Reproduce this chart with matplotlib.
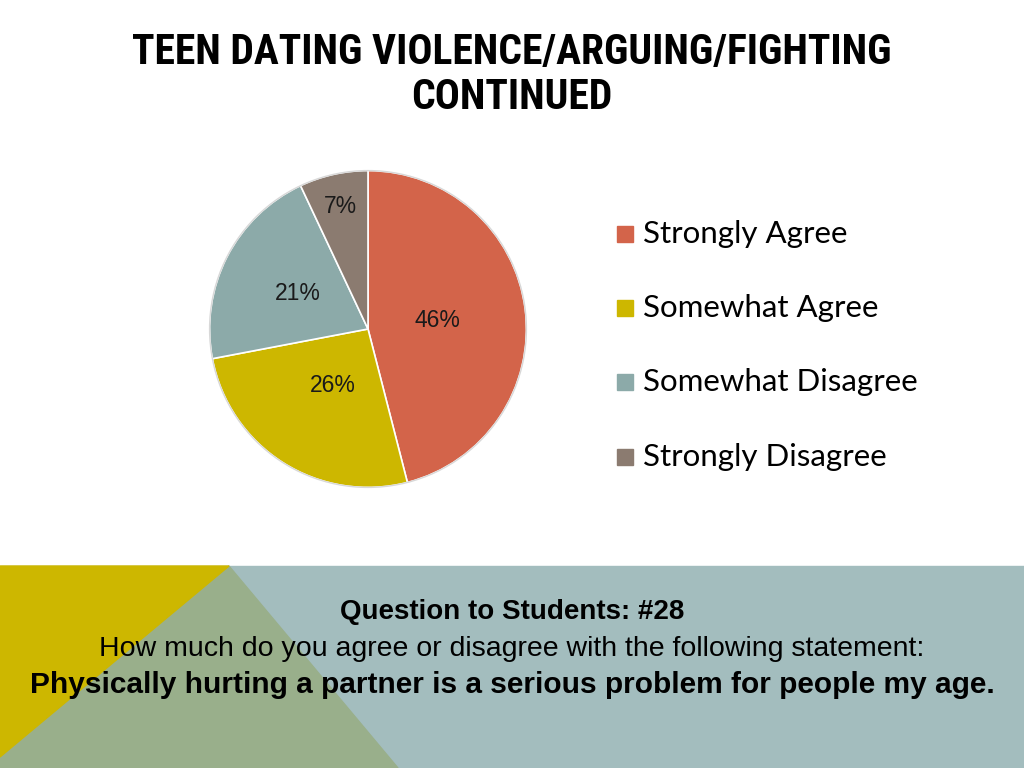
import matplotlib
matplotlib.use("Agg")
import matplotlib.pyplot as plt
import numpy as np
from matplotlib import font_manager
from matplotlib.patches import Polygon, Rectangle

categories = ["Strongly Agree", "Somewhat Agree", "Somewhat Disagree", "Strongly Disagree"]
values = [46, 26, 21, 7]
labels = ["46%", "26%", "21%", "7%"]
colors = ["#D3644A", "#CDB700", "#8CAAA9", "#8B7B70"]
label_r = [0.44, 0.42, 0.50, 0.79]

title = "TEEN DATING VIOLENCE/ARGUING/FIGHTING\nCONTINUED"
q_line1 = "Question to Students: #28"
q_line2 = "How much do you agree or disagree with the following statement:"
q_line3 = "Physically hurting a partner is a serious problem for people my age."

names = {f.name for f in font_manager.fontManager.ttflist}
title_font = "DejaVu Sans"
for cand in ["Roboto Condensed", "Archivo Narrow", "Asap Condensed", "PT Sans Narrow"]:
    if cand in names:
        title_font = cand
        break

W, H = 1024, 768
fig = plt.figure(figsize=(W / 100, H / 100), dpi=100)
bg = fig.add_axes([0, 0, 1, 1])
bg.set_xlim(0, W)
bg.set_ylim(H, 0)
bg.axis("off")

# bottom band
bg.add_patch(Rectangle((0, 566), W, H - 566, color="#A3BDBE", zorder=1))
bg.add_patch(Polygon([(229, 566), (398, H), (0, H), (0, 757)], closed=True, color="#99AF8B", zorder=2))
bg.add_patch(Polygon([(0, 566), (229, 566), (0, 757)], closed=True, color="#CDB700", zorder=3))

bg.text(512, 75, title, ha="center", va="center", fontsize=30, fontweight="bold",
        family=title_font, linespacing=1.15, zorder=5)

bg.text(512, 612, q_line1, ha="center", va="center", fontsize=20, fontweight="bold",
        family="Liberation Sans", zorder=5)
bg.text(512, 649, q_line2, ha="center", va="center", fontsize=20.5,
        family="Liberation Sans", zorder=5)
bg.text(512, 685, q_line3, ha="center", va="center", fontsize=21.5, fontweight="bold",
        family="Liberation Sans", zorder=5)

# pie
cx, cy, r = 368, 329, 160
ax = fig.add_axes([(cx - r) / W, (H - cy - r) / H, 2 * r / W, 2 * r / H])
wedges, _ = ax.pie(values, colors=colors, startangle=90, counterclock=False,
                   wedgeprops=dict(edgecolor="white", linewidth=1.2))
outline = plt.Circle((0, 0), 1.0, fill=False, edgecolor="#d8d8d8", linewidth=1.0)
ax.add_patch(outline)
ax.set_xlim(-1.01, 1.01)
ax.set_ylim(-1.01, 1.01)
ax.set_aspect("equal")
ax.axis("off")
for w, lab, lr in zip(wedges, labels, label_r):
    ang = np.deg2rad((w.theta1 + w.theta2) / 2)
    ax.text(lr * np.cos(ang), lr * np.sin(ang), lab, ha="center", va="center",
            fontsize=16.5, family="Liberation Sans", color="#1a1a1a")

# legend
leg_y = [234, 308, 382, 457]
for cat, col, yy in zip(categories, colors, leg_y):
    bg.add_patch(Rectangle((617, yy - 8), 16, 16, color=col, zorder=5))
    bg.text(643, yy, cat, ha="left", va="center", fontsize=22.5, family="Lato", zorder=5)

fig.savefig("out.png", dpi=100)
